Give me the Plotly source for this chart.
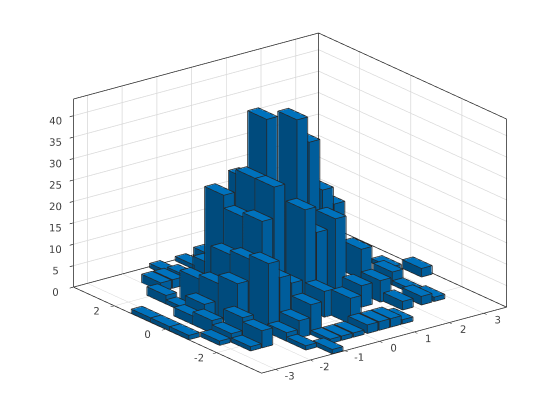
import plotly.graph_objects as go

# Bars: bin centre in x, bin centre in y, count
bar_x = [-3.24,-3.24,-3.24,-2.91,-2.57,-2.57,-2.24,-2.24,-2.57,-2.57,-2.24,-2.24,
         -1.84,-1.50,-2.24,-1.10,-1.10,-0.36,0.17,-0.36,
         -1.84,-1.84,-1.84,-1.50,-1.50,-1.50,-1.13,-1.13,-1.13,
         -0.23,-0.23,0.11,0.11,0.98,1.33,1.72,2.05,
         0.11,0.98,0.44,0.11,-0.83,-1.17,-1.53,-1.17,-0.83,0.31,1.18,1.72,
         2.28,3.46,3.12,2.62,2.62,2.35,2.72,1.81,
         -0.83,-0.50,-0.16,0.24,0.58,0.91,1.25,-1.53,-1.20]
bar_y = [0.975,0.225,-0.525,-1.275,-2.025,-1.275,-2.025,-1.275,0.225,-0.525,0.225,0.975,
         2.475,2.475,1.725,3.17,2.475,3.17,3.17,2.475,
         0.975,0.225,-0.525,0.225,-0.525,-1.275,0.975,0.225,-0.525,
         0.975,0.225,1.725,0.975,0.975,0.975,0.975,0.975,
         -0.525,-0.525,-0.525,-1.275,-2.025,-2.025,-2.025,-1.275,-1.275,-2.025,-1.275,-1.275,
         0.225,-0.525,0.225,-0.525,-1.275,-2.025,-2.025,-2.025,
         -2.775,-2.775,-2.775,-2.775,-2.775,-2.775,-2.775,-2.775,-3.36]
bar_z = [1,1,1,1,1,2,4,5,2,3,4,1,
         2,2,2,1,2,1,2,3,
         7,8,10,14,15,16,25,22,23,
         27,27,24,40,38,32,20,16,
         23,19,17,6,7,4,2,12,10,6,5,5,
         7,2,1,3,1,2,1,2,
         1,1,1,2,2,2,1,1,1]

x_range = [-3.42, 3.66]
y_range = [-3.77, 3.60]
z_range = [0, 44]
x_ticks = [-3,-2,-1,0,1,2,3]
y_ticks = [-2,0,2]
z_ticks = [0,5,10,15,20,25,30,35,40]
half_x, half_y = 0.155, 0.375

C_TOP, C_LEFT, C_RIGHT = "#0072bd", "#004b7d", "#005d9b"
EDGE = "#262626"
ex_, ey_, ez_ = 0.008, 0.014, 0.07   # faces sit just inside the outline so the outline shows

vx, vy, vz, ti, tj, tk, fc = [], [], [], [], [], [], []
ex, ey, ez = [], [], []
def add_quad(p, color):
    n = len(vx)
    for q in p:
        vx.append(q[0]); vy.append(q[1]); vz.append(q[2])
    ti.extend([n, n]); tj.extend([n+1, n+2]); tk.extend([n+2, n+3]); fc.extend([color, color])

def add_outline(p):
    for a, b in zip(p, p[1:]+p[:1]):
        ex.extend([a[0], b[0], None]); ey.extend([a[1], b[1], None]); ez.extend([a[2], b[2], None])

for xc, yc, h in zip(bar_x, bar_y, bar_z):
    X0, X1, Y0, Y1 = xc-half_x, xc+half_x, yc-half_y, yc+half_y
    x0, x1, y0, y1, t = X0+ex_, X1-ex_, Y0+ey_, Y1-ey_, h-ez_
    add_quad([(x0,y0,t),(x1,y0,t),(x1,y1,t),(x0,y1,t)], C_TOP)
    add_quad([(x0,y0,0),(x0,y1,0),(x0,y1,t),(x0,y0,t)], C_LEFT)
    add_quad([(x0,y0,0),(x1,y0,0),(x1,y0,t),(x0,y0,t)], C_RIGHT)
    add_quad([(x1,y0,0),(x1,y1,0),(x1,y1,t),(x1,y0,t)], C_LEFT)
    add_quad([(x0,y1,0),(x1,y1,0),(x1,y1,t),(x0,y1,t)], C_RIGHT)
    add_outline([(X0,Y0,h),(X1,Y0,h),(X1,Y1,h),(X0,Y1,h)])
    add_outline([(X0,Y0,0),(X1,Y0,0),(X1,Y1,0),(X0,Y1,0)])
    for px, py in [(X0,Y0),(X1,Y0),(X1,Y1),(X0,Y1)]:
        ex.extend([px,px,None]); ey.extend([py,py,None]); ez.extend([0,h,None])

fig = go.Figure()
fig.add_trace(go.Mesh3d(x=vx, y=vy, z=vz, i=ti, j=tj, k=tk, facecolor=fc, flatshading=True,
                        lighting=dict(ambient=1, diffuse=0, specular=0, fresnel=0, roughness=1),
                        hoverinfo="skip", showscale=False))
fig.add_trace(go.Scatter3d(x=ex, y=ey, z=ez, mode="lines", line=dict(color=EDGE, width=1.5),
                           hoverinfo="skip", showlegend=False))

# frame drawn a hair inside the axis limits so the scene clipping does not eat it
xa, xb = x_range[0]+0.01, x_range[1]-0.01
ya, yb = y_range[0]+0.01, y_range[1]-0.01
za, zb = z_range[0]+0.04, z_range[1]-0.06
box = [((xa,ya,za),(xb,ya,za)),((xa,ya,za),(xa,yb,za)),((xb,ya,za),(xb,yb,za)),((xa,yb,za),(xb,yb,za)),
       ((xa,yb,za),(xa,yb,zb)),((xb,yb,za),(xb,yb,zb)),((xb,ya,za),(xb,ya,zb)),
       ((xa,yb,zb),(xb,yb,zb)),((xb,ya,zb),(xb,yb,zb))]
bx, by, bz = [], [], []
for a, b in box:
    bx.extend([a[0], b[0], None]); by.extend([a[1], b[1], None]); bz.extend([a[2], b[2], None])
fig.add_trace(go.Scatter3d(x=bx, y=by, z=bz, mode="lines", line=dict(color=EDGE, width=1.5),
                           hoverinfo="skip", showlegend=False))

def axis(rng, ticks):
    return dict(range=rng, tickvals=ticks, ticktext=[str(t) for t in ticks], title=dict(text=""),
                showgrid=True, gridcolor="#d8d8d8", gridwidth=1.5, zeroline=False, showbackground=False,
                showline=False, ticks="outside", ticklen=4, tickcolor=EDGE, tickwidth=1.5, showspikes=False,
                tickangle=0, tickfont=dict(family="DejaVu Sans", size=11, color="#404040"), autorange=False)

d = 2.0
w = (-0.570, -0.743, 0.351)
u = (0.793, -0.609, 0.0)
v = (0.2137, 0.2785, 0.9365)
scale = 308.8
sx, sy = 3.0, 22.0
zoom = 1.475
c = [-(sx*u[n] + sy*v[n])/scale for n in range(3)]
fig.update_layout(
    width=560, height=420, margin=dict(l=0, r=0, t=0, b=0), paper_bgcolor="white", showlegend=False,
    scene=dict(domain=dict(x=[0,1], y=[0,1]),
               xaxis=axis(x_range, x_ticks), yaxis=axis(y_range, y_ticks), zaxis=axis(z_range, z_ticks),
               aspectmode="manual", aspectratio=dict(x=zoom, y=zoom, z=0.65*zoom),
               camera=dict(projection=dict(type="orthographic"), up=dict(x=0,y=0,z=1),
                           center=dict(x=c[0], y=c[1], z=c[2]),
                           eye=dict(x=c[0]+w[0]*d, y=c[1]+w[1]*d, z=c[2]+w[2]*d))))
fig.write_html("out.html", config=dict(displayModeBar=False))
